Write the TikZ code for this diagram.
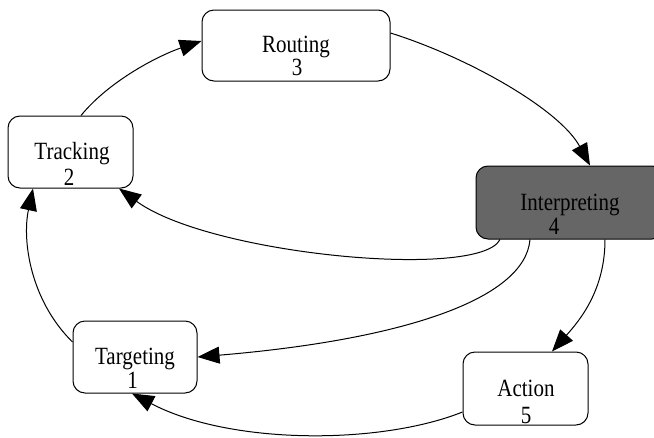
\documentclass[tikz,border=0pt]{standalone}
\usepackage{fontspec}
\setmainfont{Liberation Serif}
\usetikzlibrary{arrows.meta,calc}
\definecolor{boxdark}{RGB}{102,102,102}
\newcommand\vtxt[1]{\scalebox{1}[1.18]{#1}}
\begin{document}
\begin{tikzpicture}[x=1pt,y=-1pt,
  box/.style={draw=black,line width=1pt,rounded corners=12pt,fill=white,minimum width=#1,inner sep=0pt},
  darkbox/.style={box=#1,fill=boxdark},
  txt/.style={anchor=base,inner sep=0pt,font=\fontsize{21}{25}\selectfont},
  conn/.style={draw=black,line width=1pt,-{Triangle[length=22pt,width=17pt]}}]
\useasboundingbox[fill=white] (0,0) rectangle (654,437);
\begin{scope}
\clip (0,0) rectangle (654,437);
\node[box=188pt,minimum height=71pt] (routing) at (296,45.5) {};
\node[box=125pt,minimum height=72pt] (tracking) at (70.5,152) {};
\node[darkbox=188pt,minimum height=73pt] (interp) at (570,202.5) {};
\node[box=124pt,minimum height=72pt] (targeting) at (135,357) {};
\node[box=125pt,minimum height=73pt] (action) at (525.5,388.5) {};
\end{scope}
\node[txt] (routingA) at (296,52) {\vtxt{Routing}};
\node[txt] (routingB) at (297,75.5) {\vtxt{3}};
\node[txt] (trackingA) at (72,159) {\vtxt{Tracking}};
\node[txt] (trackingB) at (69,185) {\vtxt{2}};
\node[txt] (interpA) at (570,210) {\vtxt{Interpreting}};
\node[txt] (interpB) at (554,234.5) {\vtxt{4}};
\node[txt] (targetingA) at (135,364) {\vtxt{Targeting}};
\node[txt] (targetingB) at (132.5,388.5) {\vtxt{1}};
\node[txt] (actionA) at (526,396) {\vtxt{Action}};
\node[txt] (actionB) at (526,423) {\vtxt{5}};
% connectors
\draw[conn] ($(tracking.north)+(10.5,0)$) .. controls (110,80) and (160,55) .. ($(routing.west)+(0,-4.5)$);
\draw[conn] ($(routing.east)+(0,-12.5)$) .. controls (470,58) and (560,110) .. ($(interp.north)+(20,0)$);
\draw[conn] ($(interp.south)+(-70,0)$) .. controls (480,280) and (210,255) .. ($(tracking.south)+(48.5,0)$);
\draw[conn] ($(interp.south)+(-40,0)$) .. controls (525,300) and (400,340) .. (targeting.east);
\draw[conn] ($(interp.south)+(35,0)$) .. controls (605,290) and (580,320) .. ($(action.north)+(26.5,0)$);
\draw[conn] ($(action.west)+(0,23.5)$) .. controls (380,445) and (230,445) .. ($(targeting.south)+(-3,0)$);
\draw[conn] ($(targeting.west)+(0,-15)$) .. controls (30,300) and (22,240) .. ($(tracking.south)+(-37.5,0)$);
\end{tikzpicture}
\end{document}
